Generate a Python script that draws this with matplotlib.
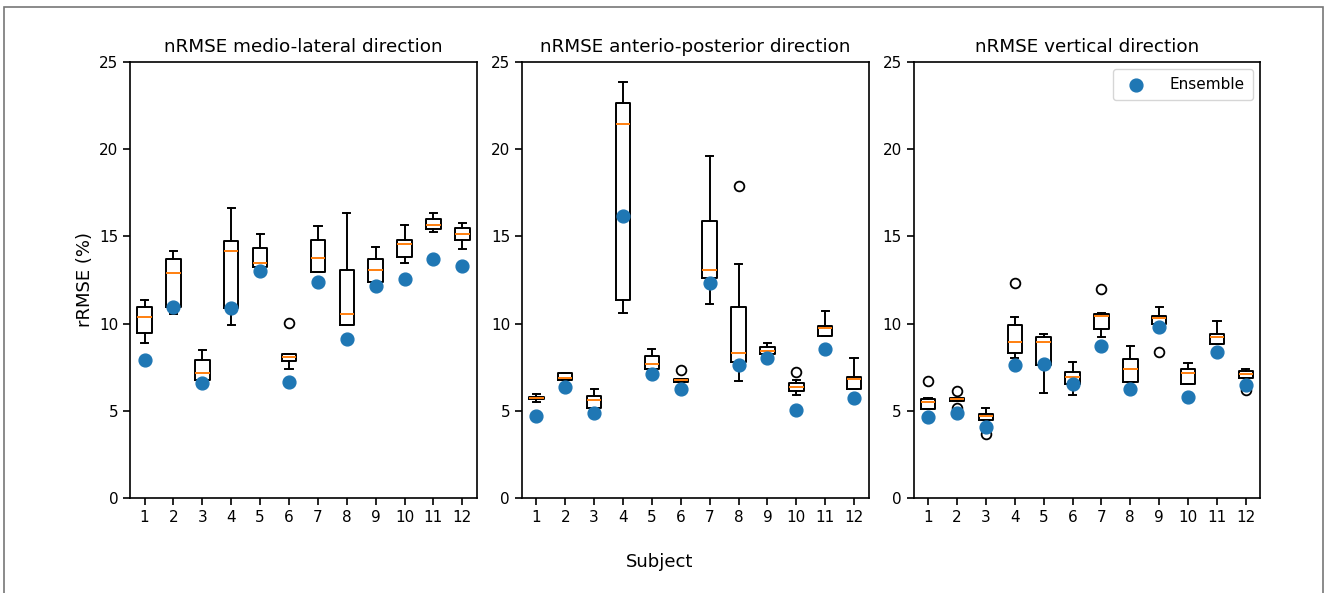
import matplotlib
matplotlib.use('Agg')
import matplotlib.pyplot as plt
from matplotlib.patches import Rectangle

subjects = list(range(1, 13))
titles = ['nRMSE medio-lateral direction',
          'nRMSE anterio-posterior direction',
          'nRMSE vertical direction']

# box stats per direction: whislo, q1, med, q3, whishi
ml_whislo = [8.87, 10.55, 6.70, 9.90, 13.20, 7.40, 12.98, 9.90, 12.37, 13.49, 15.27, 14.26]
ml_q1 = [9.45, 10.95, 6.76, 10.88, 13.23, 7.84, 12.98, 9.90, 12.37, 13.80, 15.40, 14.81]
ml_med = [10.38, 12.92, 7.18, 14.14, 13.49, 8.07, 13.74, 10.55, 13.05, 14.58, 15.67, 15.13]
ml_q3 = [10.92, 13.72, 7.90, 14.75, 14.31, 8.26, 14.81, 13.09, 13.72, 14.81, 15.99, 15.46]
ml_whishi = [11.32, 14.18, 8.49, 16.62, 15.15, 8.26, 15.61, 16.35, 14.39, 15.67, 16.35, 15.78]
ml_fliers = [[], [], [], [], [], [10.04], [], [], [], [], [], []]
ml_ensemble = [7.92, 10.94, 6.58, 10.88, 13.03, 6.64, 12.40, 9.14, 12.16, 12.54, 13.72, 13.28]

ap_whislo = [5.50, 6.74, 5.15, 10.59, 7.40, 6.68, 11.11, 6.72, 8.26, 5.88, 9.29, 6.23]
ap_q1 = [5.67, 6.74, 5.15, 11.32, 7.40, 6.68, 12.63, 7.79, 8.26, 6.16, 9.29, 6.23]
ap_med = [5.74, 6.87, 5.61, 21.43, 7.69, 6.77, 13.09, 8.30, 8.45, 6.35, 9.73, 6.82]
ap_q3 = [5.82, 7.16, 5.86, 22.63, 8.13, 6.85, 15.90, 10.97, 8.66, 6.58, 9.87, 6.92]
ap_whishi = [5.99, 7.16, 6.26, 23.85, 8.55, 6.85, 19.62, 13.42, 8.87, 6.74, 10.73, 8.04]
ap_fliers = [[], [], [], [], [], [7.35], [], [17.90], [], [7.21], [], []]
ap_ensemble = [4.73, 6.39, 4.87, 16.18, 7.10, 6.24, 12.31, 7.61, 8.05, 5.06, 8.53, 5.72]

v_whislo = [5.11, 5.59, 4.48, 8.02, 6.01, 5.88, 9.22, 6.68, 9.98, 6.53, 8.84, 6.89]
v_q1 = [5.11, 5.59, 4.48, 8.30, 7.63, 6.55, 9.71, 6.68, 9.98, 6.53, 8.84, 6.89]
v_med = [5.50, 5.67, 4.69, 8.93, 8.93, 6.91, 10.46, 7.40, 10.29, 7.18, 9.22, 7.12]
v_q3 = [5.67, 5.76, 4.83, 9.90, 9.22, 7.21, 10.57, 7.98, 10.46, 7.40, 9.39, 7.29]
v_whishi = [5.76, 5.76, 5.15, 10.36, 9.39, 7.79, 10.63, 8.72, 10.97, 7.73, 10.15, 7.39]
v_fliers = [[6.72], [6.15, 5.15], [3.68], [12.33], [], [], [12.00], [], [8.36], [], [], [6.20]]
v_ensemble = [4.66, 4.87, 4.05, 7.61, 7.69, 6.55, 8.74, 6.26, 9.83, 5.80, 8.38, 6.49]

panels = [
    (ml_whislo, ml_q1, ml_med, ml_q3, ml_whishi, ml_fliers, ml_ensemble),
    (ap_whislo, ap_q1, ap_med, ap_q3, ap_whishi, ap_fliers, ap_ensemble),
    (v_whislo, v_q1, v_med, v_q3, v_whishi, v_fliers, v_ensemble),
]

fig = plt.figure(figsize=(13.28, 5.93), dpi=100)
lefts = [0.098, 0.393, 0.688]
axes = [fig.add_axes([l, 0.160, 0.261, 0.736]) for l in lefts]

for ax, title, (wlo, q1, med, q3, whi, fl, ens) in zip(axes, titles, panels):
    stats = []
    for i in range(len(subjects)):
        stats.append(dict(whislo=wlo[i], q1=q1[i], med=med[i], q3=q3[i],
                          whishi=whi[i], fliers=fl[i], label=str(subjects[i])))
    ax.bxp(stats, positions=subjects,
           boxprops=dict(linewidth=1.4),
           whiskerprops=dict(linewidth=1.4),
           capprops=dict(linewidth=1.4),
           medianprops=dict(color='#ff7f0e', linewidth=1.4),
           flierprops=dict(marker='o', markersize=7, markerfacecolor='none',
                           markeredgecolor='black', markeredgewidth=1.3))
    ax.scatter(subjects, ens, s=85, color='#1f77b4', zorder=3, label='Ensemble')
    ax.set_ylim(0, 25)
    ax.set_xlim(0.5, 12.5)
    ax.set_yticks([0, 5, 10, 15, 20, 25])
    ax.set_title(title, fontsize=13.2, pad=7)
    ax.tick_params(labelsize=11, width=1.2, length=5)
    for sp in ax.spines.values():
        sp.set_linewidth(1.2)

axes[0].set_ylabel('rRMSE (%)', fontsize=13)
axes[2].legend(loc='upper right', fontsize=11, borderpad=0.5, handletextpad=1.2)
fig.text(0.497, 0.052, 'Subject', ha='center', va='center', fontsize=13)

fig.patches.append(Rectangle((0.003, -0.02), 0.993, 1.008, transform=fig.transFigure,
                             fill=False, edgecolor='#777777', linewidth=1.2))

fig.savefig('out.png', dpi=100)
